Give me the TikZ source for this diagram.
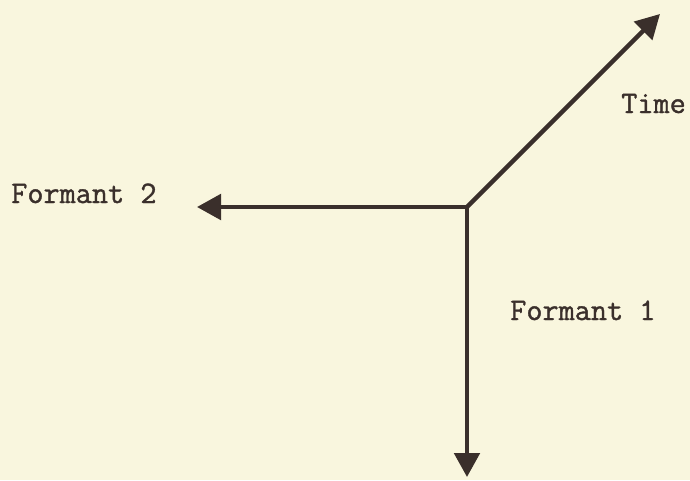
\documentclass[tikz,border=0pt]{standalone}
\usepackage{fontspec}
\newfontfamily\typew[FakeBold=1.2]{Latin Modern Mono}
\usetikzlibrary{arrows.meta}
\definecolor{paper}{HTML}{F9F6DE}
\definecolor{ink}{HTML}{3A2F2B}
\begin{document}
\begin{tikzpicture}[x=0.75pt,y=-0.75pt,
  axis/.style={draw=ink,line width=3.2pt,-{Triangle[length=18pt,width=19pt]}},
  lbl/.style={inner sep=0pt,anchor=base west,text=ink,font=\typew\fontsize{23.5}{28}\selectfont}]
\fill[paper] (0,0) rectangle (690,480);
\useasboundingbox (0,0) rectangle (690,480);
\coordinate (O) at (467,207);
\coordinate (T) at (660,14);
\coordinate (L) at (197,207);
\coordinate (D) at (467,477);
\draw[axis] (O) -- (T);
\draw[axis] (O) -- (L);
\draw[axis] (O) -- (D);
\node[lbl] (time) at (621,113) {Time};
\node[lbl] (f2) at (11,203) {Formant 2};
\node[lbl] (f1) at (510,320) {Formant 1};
\end{tikzpicture}
\end{document}
